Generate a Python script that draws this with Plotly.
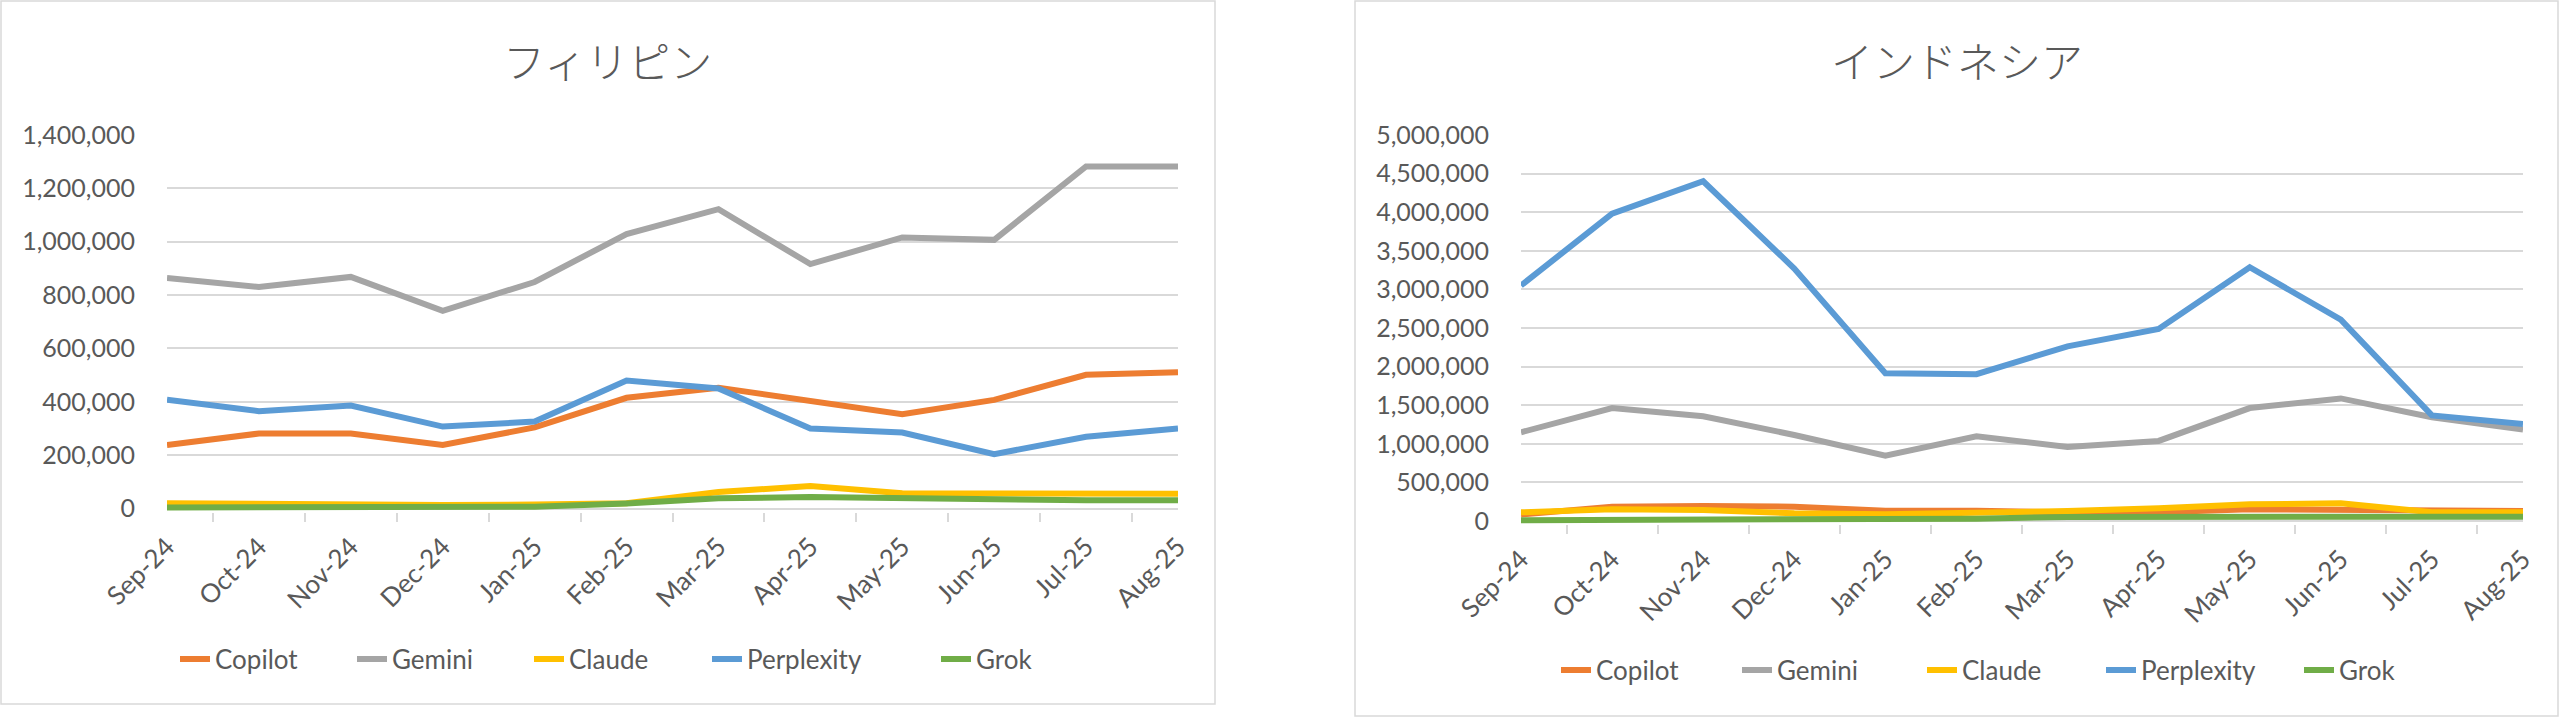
import plotly.graph_objects as go

months = ["Sep-24", "Oct-24", "Nov-24", "Dec-24", "Jan-25", "Feb-25",
          "Mar-25", "Apr-25", "May-25", "Jun-25", "Jul-25", "Aug-25"]
series_names = ["Copilot", "Gemini", "Claude", "Perplexity", "Grok"]
colors = ["#ED7D31", "#A5A5A5", "#FFC000", "#5B9BD5", "#70AD47"]

# フィリピン
ph_copilot = [238000, 281000, 281000, 238000, 304000, 415000, 453000, 401000, 353000, 407000, 501000, 511000]
ph_gemini = [864000, 830000, 868000, 741000, 849000, 1029000, 1122000, 916000, 1016000, 1007000, 1282000, 1282000]
ph_claude = [20000, 16000, 16000, 13000, 15000, 20000, 62000, 84000, 57000, 55000, 55000, 55000]
ph_perplexity = [408000, 365000, 386000, 307000, 326000, 480000, 450000, 300000, 285000, 204000, 269000, 300000]
ph_grok = [4000, 4000, 4000, 5000, 7000, 19000, 38000, 43000, 38000, 31000, 31000, 31000]

# インドネシア
id_copilot = [84000, 185000, 194000, 185000, 134000, 134000, 112000, 112000, 151000, 142000, 134000, 131000]
id_gemini = [1149000, 1463000, 1357000, 1114000, 847000, 1096000, 960000, 1037000, 1463000, 1588000, 1345000, 1185000]
id_claude = [112000, 151000, 142000, 99000, 86000, 99000, 129000, 164000, 216000, 229000, 112000, 112000]
id_perplexity = [3051000, 3981000, 4401000, 3270000, 1913000, 1902000, 2263000, 2488000, 3288000, 2607000, 1368000, 1256000]
id_grok = [10000, 12000, 15000, 20000, 24000, 30000, 53000, 53000, 55000, 56000, 56000, 56000]

W, H = 2560, 717
FONT = "Lato, 'Noto Sans CJK JP', sans-serif"
TXT = "#595959"
GRID = "#D9D9D9"

fig = go.Figure()

ph = [ph_copilot, ph_gemini, ph_claude, ph_perplexity, ph_grok]
idn = [id_copilot, id_gemini, id_claude, id_perplexity, id_grok]

# legend entry widths (spacing between legend items)
ph_leg_w = [132, 132, 133, 184, 60]
id_leg_w = [136, 140, 134, 153, 60]

for name, col, vals, lw in zip(series_names, colors, ph, ph_leg_w):
    fig.add_trace(go.Scatter(x=months, y=vals, name=name, mode="lines",
                             line=dict(color=col, width=6),
                             xaxis="x", yaxis="y", legend="legend", legendwidth=lw))
for name, col, vals, lw in zip(series_names, colors, idn, id_leg_w):
    fig.add_trace(go.Scatter(x=months, y=vals, name=name, mode="lines",
                             line=dict(color=col, width=6),
                             xaxis="x2", yaxis="y2", legend="legend2", legendwidth=lw))

def px_x(p):
    return p / W

def px_y(p):
    return 1 - p / H

xcommon = dict(type="category", showgrid=False, showline=False, ticks="outside",
               tickson="boundaries", ticklen=9, tickcolor=GRID, tickwidth=1.5,
               tickangle=-45, tickfont=dict(family=FONT, size=26, color=TXT),
               ticklabelstandoff=14,
               zeroline=False, fixedrange=True, automargin=False)
ycommon = dict(showgrid=True, gridcolor=GRID, gridwidth=1.5, showline=False,
               zeroline=True, zerolinecolor=GRID, zerolinewidth=1.5,
               tickformat=",d", ticks="", ticklabelstandoff=31,
               tickfont=dict(family=FONT, size=25, color=TXT), fixedrange=True,
               automargin=False)

legcommon = dict(orientation="h", xanchor="left", yanchor="middle",
                 font=dict(family=FONT, size=26, color=TXT), bgcolor="rgba(0,0,0,0)",
                 itemwidth=30, tracegroupgap=0)

fig.update_layout(
    width=W, height=H, autosize=False,
    margin=dict(l=0, r=0, t=0, b=0, pad=0, autoexpand=False),
    paper_bgcolor="white", plot_bgcolor="white",
    xaxis=dict(domain=[px_x(167), px_x(1178)], anchor="y", **xcommon),
    yaxis=dict(domain=[px_y(511.5), px_y(135)], anchor="x",
               range=[-11245, 1400000], tick0=0, dtick=200000, **ycommon),
    xaxis2=dict(domain=[px_x(1521), px_x(2523)], anchor="y2", **xcommon),
    yaxis2=dict(domain=[px_y(524), px_y(135)], anchor="x2",
                range=[-38860, 5000000], tick0=0, dtick=500000, **ycommon),
    legend=dict(x=px_x(175), y=px_y(659), **legcommon),
    legend2=dict(x=px_x(1556), y=px_y(670), **legcommon),
    annotations=[
        dict(text="フィリピン", x=px_x(607), y=px_y(59), xref="paper", yref="paper",
             showarrow=False, xanchor="center", yanchor="middle",
             font=dict(family="'Noto Sans CJK JP', sans-serif", size=42, color=TXT, weight=300)),
        dict(text="インドネシア", x=px_x(1957), y=px_y(59), xref="paper", yref="paper",
             showarrow=False, xanchor="center", yanchor="middle",
             font=dict(family="'Noto Sans CJK JP', sans-serif", size=42, color=TXT, weight=300)),
    ],
    shapes=[
        dict(type="rect", xref="paper", yref="paper", x0=px_x(1), x1=px_x(1215),
             y0=px_y(704), y1=px_y(1), line=dict(color=GRID, width=1.5), layer="below"),
        dict(type="rect", xref="paper", yref="paper", x0=px_x(1355), x1=px_x(2558),
             y0=px_y(716), y1=px_y(1), line=dict(color=GRID, width=1.5), layer="below"),
    ],
)

fig.write_html("out.html", include_plotlyjs=True, full_html=True,
               config={"responsive": False, "displayModeBar": False},
               post_script="document.body.style.margin='0';document.body.style.overflow='hidden';")
